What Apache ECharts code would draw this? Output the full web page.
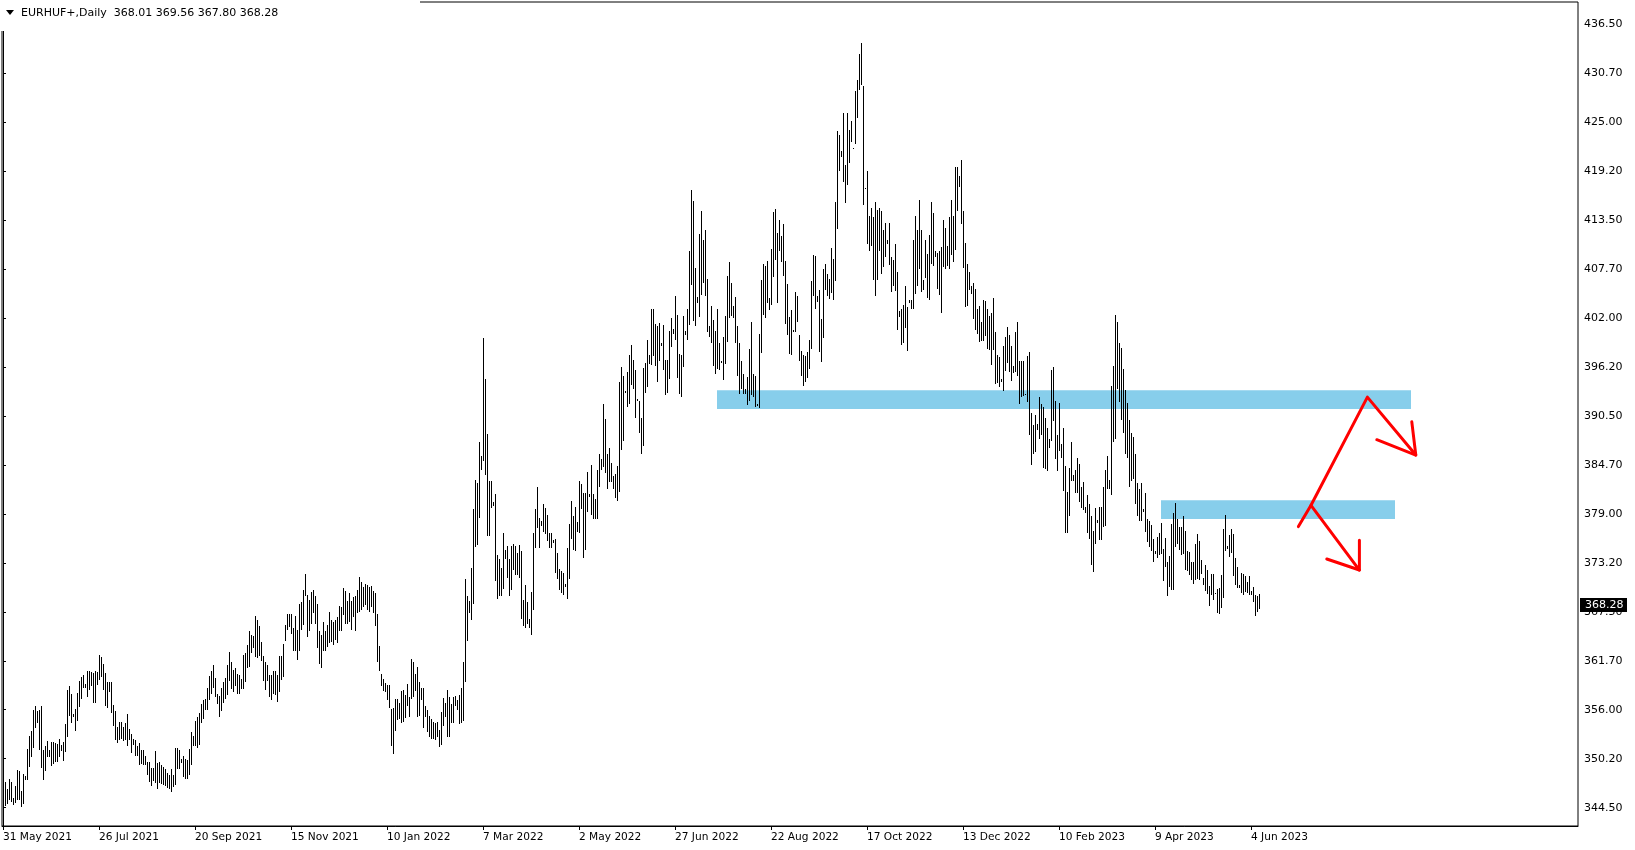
<!DOCTYPE html>
<html><head><meta charset="utf-8">
<script src="https://cdn.jsdelivr.net/npm/echarts@6/dist/echarts.min.js"></script>
<style>html,body{margin:0;padding:0;background:#fff}#c{width:1635px;height:850px}</style>
</head><body><div id="c"></div>
<script>
// ---- tick labels ----
const xTickLabels = ['31 May 2021','26 Jul 2021','20 Sep 2021','15 Nov 2021','10 Jan 2022','7 Mar 2022','2 May 2022','27 Jun 2022','22 Aug 2022','17 Oct 2022','13 Dec 2022','10 Feb 2023','9 Apr 2023','4 Jun 2023'];
const barsPerLabel = 48;
const yTickValues = [344.5,350.25,356.0,361.75,367.5,373.25,379.0,384.75,390.5,396.25,402.0,407.75,413.5,419.25,425.0,430.75,436.5];
const yTickLabels = ['344.50','350.20','356.00','361.70','367.50','373.20','379.00','384.70','390.50','396.20','402.00','407.70','413.50','419.20','425.00','430.70','436.50'];
// ---- EURHUF daily bars (high / low) ----
const highs = [
348.3,347.5,346.7,347.9,347.5,345.6,347.0,348.9,348.8,346.5,
348.5,348.2,351.4,352.9,353.5,356.0,356.4,355.9,356.0,356.4,
351.3,351.8,352.3,351.3,352.2,352.2,352.1,352.0,352.6,351.9,
352.2,354.3,358.3,358.8,357.9,355.5,356.1,358.0,359.4,359.9,
360.1,359.0,360.5,360.5,360.4,360.3,360.5,360.4,362.4,362.2,
361.4,360.3,359.3,359.3,359.3,356.6,355.9,354.0,354.6,354.6,
354.0,354.5,355.5,353.7,353.2,352.6,352.5,351.7,352.1,351.3,
351.3,350.6,349.9,349.9,349.2,349.2,351.1,349.8,349.9,349.5,
349.3,349.0,348.6,348.3,349.1,348.3,351.5,351.5,351.3,350.2,
350.6,350.2,350.1,351.4,353.4,352.9,354.7,355.1,355.6,356.7,
357.1,357.3,358.5,360.0,360.6,361.3,359.7,357.8,357.6,358.5,
359.3,359.7,361.3,362.8,361.6,360.7,360.9,360.2,360.1,359.6,
362.4,362.7,363.6,365.2,364.8,364.7,367.0,366.5,365.8,364.0,
362.3,361.6,361.3,360.1,360.1,360.6,360.5,360.1,362.3,362.3,
363.7,365.9,367.2,367.2,367.2,365.6,367.0,365.4,368.4,368.6,
370.1,371.9,369.5,368.9,369.8,370.1,369.4,368.4,365.3,364.8,
366.3,365.2,365.9,367.5,366.5,366.3,366.5,366.9,368.2,368.1,
370.3,369.9,368.8,369.7,368.8,369.2,369.4,370.1,371.6,371.0,
370.4,370.8,370.6,370.4,370.5,369.9,369.7,367.2,363.5,360.2,
359.6,359.1,358.9,358.9,356.1,356.2,357.3,357.3,356.8,358.2,
358.3,357.7,359.0,357.5,362.0,361.6,360.2,361.0,359.3,358.6,
358.5,356.4,356.0,355.3,354.9,354.6,354.5,354.6,353.6,355.7,
357.4,356.8,358.3,357.5,356.7,357.5,357.6,357.1,357.7,358.5,
361.6,371.4,369.3,368.8,372.6,379.6,383.0,382.6,387.4,385.8,
399.7,394.8,388.4,382.8,382.8,380.4,381.3,374.2,373.7,372.6,
376.7,374.7,375.2,373.7,375.2,375.4,375.2,374.4,375.3,374.6,
368.9,370.6,368.7,366.7,369.8,376.8,379.6,382.1,378.5,378.2,
380.2,379.7,378.9,376.8,376.8,375.9,376.1,374.4,372.5,372.3,
372.0,370.8,375.0,377.8,380.5,378.7,379.8,378.0,382.8,382.5,
381.4,381.5,383.9,381.3,384.7,381.3,380.7,384.2,386.0,385.4,
391.9,390.1,386.0,386.7,385.0,383.4,383.7,384.6,394.5,396.2,
395.2,393.4,395.7,397.7,398.8,397.1,395.9,392.5,392.3,390.3,
396.1,396.7,399.4,397.7,403.0,403.0,401.3,401.0,401.4,399.0,
401.2,397.1,397.1,400.5,402.0,400.7,404.6,402.3,397.8,397.7,
402.2,400.5,403.1,409.8,417.0,415.7,407.9,404.4,411.8,414.6,
411.2,412.3,406.6,401.0,403.4,401.8,400.5,403.0,399.1,397.0,
399.8,402.2,406.9,408.6,406.1,403.4,404.5,401.1,399.1,396.9,
395.4,393.6,395.1,398.3,401.5,395.4,395.2,391.9,400.1,406.5,
408.3,408.1,408.7,404.3,410.1,414.4,414.8,412.0,413.5,411.6,
413.0,408.7,406.0,402.1,402.9,400.6,405.1,404.6,400.0,398.1,
397.7,397.5,398.0,399.4,406.3,409.4,409.3,404.6,405.3,401.9,
407.8,408.3,407.2,406.6,410.2,408.9,415.6,424.0,423.5,421.6,
426.0,419.9,426.1,424.1,425.1,422.0,428.6,429.9,433.0,434.3,
429.2,417.3,419.2,414.0,414.9,413.8,415.6,414.7,414.9,414.5,
412.3,413.2,411.1,413.1,409.1,408.8,410.7,407.4,402.8,403.1,
403.5,405.7,403.3,404.1,404.1,411.2,414.0,412.3,415.8,412.3,
406.4,411.1,409.5,411.7,415.6,414.3,409.8,409.6,409.8,410.3,
413.5,412.5,410.4,413.8,415.9,414.0,419.7,419.7,418.7,420.5,
414.5,410.8,408.3,407.4,405.8,406.1,405.4,403.1,403.4,401.5,
404.1,404.0,403.1,402.2,402.6,404.3,400.3,397.6,397.4,394.8,
398.7,399.8,400.9,400.0,398.7,396.3,400.4,401.5,396.9,396.9,
396.9,393.1,397.5,398.0,390.8,389.4,390.6,389.6,392.7,391.9,
391.5,390.3,389.1,387.8,395.9,396.2,392.2,388.2,392.0,387.2,
389.1,384.6,381.6,384.4,387.4,383.5,384.1,385.6,384.8,382.2,
382.7,379.8,381.2,380.1,378.7,377.0,379.7,378.3,379.8,379.8,
382.1,384.1,385.8,383.0,394.0,396.3,402.3,401.5,399.1,398.5,
396.0,393.5,392.0,390.0,388.5,388.0,386.0,382.6,381.9,382.6,
379.6,381.5,378.4,378.1,377.7,376.1,374.6,376.3,376.8,377.9,
374.9,376.2,373.3,374.1,377.8,379.1,380.3,378.4,377.4,377.5,
378.7,377.0,374.6,374.5,373.4,373.4,375.5,376.6,375.8,373.6,
371.5,373.0,372.4,370.5,371.9,371.9,369.7,370.2,370.3,371.8,
377.2,378.9,375.2,376.5,377.2,376.6,373.8,372.8,370.7,372.0,
371.9,371.7,371.0,371.7,369.9,370.4,369.5,369.3,369.56
];
const lows = [
346.0,344.7,344.9,345.4,345.2,344.8,345.0,345.4,345.4,344.6,
344.9,347.7,347.7,349.3,350.4,351.5,353.9,354.5,351.3,349.2,
347.7,348.8,350.5,350.5,349.4,349.6,349.9,349.9,350.5,351.1,
350.0,351.0,352.8,355.3,354.5,355.2,353.5,354.7,356.3,357.3,
358.6,358.5,357.5,358.3,358.8,356.8,356.8,358.9,359.5,359.9,
358.3,356.4,356.2,358.1,355.6,354.1,352.4,352.1,352.4,352.6,
352.3,352.4,351.7,352.4,350.9,351.9,350.6,350.6,349.5,349.6,
349.5,349.5,348.3,347.5,347.0,347.6,347.4,346.7,347.4,347.3,
347.2,347.0,346.8,346.7,346.3,346.9,347.2,349.1,349.0,349.7,
348.1,347.9,347.9,348.3,349.5,351.7,351.8,351.5,351.9,354.4,
354.9,356.0,356.0,357.2,357.9,358.6,357.5,356.7,355.1,355.9,
356.8,357.3,357.7,359.4,358.4,358.1,358.8,357.9,357.9,358.4,
358.4,359.2,360.9,361.0,362.7,363.3,362.2,362.1,362.3,361.7,
359.4,358.3,359.4,357.5,357.1,357.9,357.7,356.9,358.1,359.5,
359.8,364.1,365.4,365.7,364.9,362.9,362.9,361.8,362.9,365.4,
366.0,369.4,364.5,365.2,366.1,367.3,366.1,363.3,361.4,360.9,
362.9,362.9,363.4,363.8,364.0,363.6,364.2,363.8,365.2,365.3,
367.1,366.1,366.1,366.3,365.4,366.9,365.2,367.3,367.5,367.7,
368.1,368.3,367.7,367.5,368.1,367.3,365.8,361.6,360.6,358.8,
358.2,358.1,357.1,356.2,351.7,350.8,353.5,354.8,354.9,354.5,
354.6,355.0,356.4,355.2,357.3,357.5,358.2,355.2,355.3,357.2,
353.8,355.1,353.4,352.8,352.6,352.6,352.5,352.8,351.6,351.9,
354.1,355.2,352.8,352.8,354.4,354.5,356.4,356.0,354.3,354.4,
354.7,359.3,364.1,367.3,366.5,368.4,375.1,375.3,378.5,384.1,
385.2,383.5,376.4,376.4,379.7,379.9,371.1,369.0,369.3,369.3,
370.2,373.7,371.5,369.3,370.0,372.4,371.8,371.8,371.5,366.6,
365.8,365.6,366.1,365.6,364.8,367.7,375.0,377.3,375.0,377.6,
376.9,376.6,375.8,375.0,375.0,375.6,372.0,371.3,370.0,369.7,
369.5,370.4,369.0,371.4,376.1,374.8,374.6,376.9,376.8,379.6,
373.8,374.7,379.2,381.0,378.9,378.4,378.4,378.4,382.1,384.2,
384.5,383.8,381.9,382.7,382.7,381.9,380.8,380.5,381.6,386.5,
387.5,393.2,391.5,391.9,394.1,393.6,390.3,392.3,388.5,386.0,
387.0,393.2,393.9,396.6,396.5,397.5,396.3,394.5,396.9,398.7,
395.9,393.0,393.2,394.8,398.6,400.1,399.4,395.0,393.1,392.7,
396.2,400.0,399.4,401.2,405.9,401.6,401.0,403.8,402.1,404.7,
406.1,404.6,400.3,399.8,399.0,396.3,395.4,396.0,395.9,396.7,
394.7,396.6,399.2,402.0,402.2,402.0,399.0,395.2,393.1,393.6,
393.1,393.1,391.8,392.2,393.0,392.7,391.5,391.7,391.4,397.9,
402.4,402.0,403.8,402.9,403.5,406.8,408.8,403.8,409.8,408.6,
406.9,401.3,400.0,397.8,397.6,400.4,400.4,401.5,397.0,395.2,
394.0,394.5,395.0,396.0,398.4,404.6,403.1,403.9,398.0,396.8,
399.6,405.3,404.6,404.2,404.9,404.1,406.3,412.4,419.3,420.9,
417.9,415.5,417.6,420.2,422.7,421.8,422.4,425.5,428.7,429.4,
415.3,417.1,410.7,409.9,410.5,406.5,404.6,406.4,409.9,407.1,
408.0,409.1,410.7,408.2,405.0,405.8,405.2,400.6,402.1,398.8,
399.1,400.8,398.1,403.7,403.1,403.1,404.8,405.8,407.8,405.0,
405.3,406.7,404.3,404.1,408.3,408.1,409.1,405.4,404.7,402.6,
408.0,407.8,408.1,407.8,409.4,408.6,410.0,414.5,417.4,413.0,
407.9,403.3,403.4,405.3,404.8,401.9,400.6,400.1,399.2,399.3,
399.3,399.9,398.3,398.2,396.5,398.2,394.2,394.4,393.9,394.5,
393.4,395.8,396.7,395.7,394.6,395.5,395.6,395.2,391.9,392.7,
392.8,393.0,392.1,388.2,384.7,386.0,386.2,388.8,387.8,388.3,
384.4,384.3,384.0,386.7,387.5,389.9,385.4,384.0,386.4,385.6,
381.7,376.8,376.8,378.7,382.8,382.8,381.4,381.4,380.4,379.7,
379.5,379.1,376.8,376.1,373.0,372.2,375.4,377.9,375.9,375.9,
377.4,377.6,381.9,381.9,381.2,387.4,387.8,393.6,392.1,390.0,
388.5,386.0,385.5,382.1,382.8,383.1,380.2,378.7,378.1,378.2,
379.2,376.9,375.7,375.1,374.6,373.3,374.3,373.8,374.2,374.3,
371.1,372.7,369.3,370.4,370.0,370.1,375.1,375.5,374.7,374.2,
374.3,372.4,372.3,371.8,371.2,370.8,371.2,371.4,371.2,371.9,
370.6,369.9,369.6,368.2,369.5,368.9,369.6,367.3,367.2,367.9,
369.1,374.6,374.9,373.9,374.4,371.7,370.6,370.3,370.3,369.7,
369.5,369.8,369.7,369.5,369.5,368.6,367.0,367.5,367.80
];
const lastBar = {open: 368.01, high: 369.56, low: 367.80, close: 368.28};
const symbolTitle = 'EURHUF+,Daily';
// ---- drawn annotations (in bar-index / price units) ----
const zones = [[357, 393.5, 704, 391.3], [579, 380.6, 696, 378.4]];
const strokes = [
  [[647.7, 377.5], [654.0, 380.0], [682.2, 392.7], [706.4, 385.9]],
  [[654.0, 380.0], [678.2, 372.4]],
  [[686.9, 387.7], [706.4, 385.9], [704.4, 389.8]],
  [[661.9, 373.7], [678.2, 372.4], [678.2, 375.9]]
];
const totalSlots = 788;

// categories: daily slots (Sun-Fri sessions) from 31 May 2021
const categories = [];
{ const d = new Date(Date.UTC(2021, 4, 31));
  while (categories.length < totalSlots) {
    if (d.getUTCDay() !== 6) categories.push(d.toISOString().slice(0, 10));
    d.setUTCDate(d.getUTCDate() + 1);
  } }

const barData = highs.map((h, i) => [i, lows[i], h]);
const FONT = 'DejaVu Sans';

const chart = echarts.init(document.getElementById('c'), null, {renderer: 'canvas'});
const strokeSeries = strokes.map((pts) => ({
  type: 'line', xAxisIndex: 1, yAxisIndex: 0, data: pts, symbol: 'none', silent: true, z: 10,
  lineStyle: {color: '#ff0000', width: 3, cap: 'round', join: 'round'}
}));

chart.setOption({
  animation: false,
  backgroundColor: '#fff',
  grid: {left: 2, top: 2, width: 1576, height: 824, show: true, borderColor: '#000', borderWidth: 1, backgroundColor: 'transparent'},
  xAxis: [{
    type: 'category', data: categories, boundaryGap: true,
    axisLine: {show: true, lineStyle: {color: '#000', width: 1}},
    axisTick: {show: true, alignWithLabel: true, length: 4, lineStyle: {color: '#000'},
      interval: (idx) => idx % barsPerLabel === 0 && idx / barsPerLabel < xTickLabels.length},
    axisLabel: {show: true, color: '#000', fontFamily: FONT, fontSize: 10.6, align: 'left', margin: 6,
      interval: (idx) => idx % barsPerLabel === 0 && idx / barsPerLabel < xTickLabels.length,
      formatter: (v, idx) => xTickLabels[idx / barsPerLabel] || ''},
    splitLine: {show: false}
  }, {
    type: 'value', min: -0.5, max: totalSlots - 0.5, show: false
  }],
  yAxis: [{
    type: 'value', position: 'right', min: 342.35, max: 439.09, scale: true,
    axisLine: {show: true, lineStyle: {color: '#000', width: 1}},
    axisTick: {show: true, length: 3, inside: false, lineStyle: {color: '#000'}, customValues: yTickValues},
    axisLabel: {show: true, color: '#000', fontFamily: FONT, fontSize: 11, margin: 6, customValues: yTickValues,
      formatter: (v) => { const k = yTickValues.findIndex(t => Math.abs(t - v) < 1e-6); return k >= 0 ? yTickLabels[k] : ''; }},
    splitLine: {show: false}
  }],
  graphic: [
    {type: 'rect', left: 0, top: 0, shape: {x: 0, y: 0, width: 420, height: 31}, style: {fill: '#fff'}, z: 100, silent: true},
    {type: 'polygon', shape: {points: [[6, 10], [14, 10], [10, 15]]}, style: {fill: '#000'}, z: 101, silent: true},
    {type: 'text', x: 21, y: 13, z: 101, silent: true,
      style: {text: symbolTitle + '  ' + [lastBar.open, lastBar.high, lastBar.low, lastBar.close].map(v => v.toFixed(2)).join(' '),
        fill: '#000', font: '11px "DejaVu Sans"', textVerticalAlign: 'middle', verticalAlign: 'middle'}}
  ],
  series: [{
    type: 'custom', xAxisIndex: 1, yAxisIndex: 0, data: zones, silent: true, z: 1,
    encode: {x: [0, 2], y: [1, 3]},
    renderItem: (params, api) => {
      const p0 = api.coord([api.value(0), api.value(1)]);
      const p1 = api.coord([api.value(2), api.value(3)]);
      return {type: 'rect', shape: {x: p0[0], y: p0[1], width: p1[0] - p0[0], height: p1[1] - p0[1]}, style: {fill: '#87ceeb'}};
    }
  }, {
    type: 'custom', name: 'EURHUF', xAxisIndex: 0, yAxisIndex: 0, data: barData, silent: true, z: 5,
    encode: {x: 0, y: [1, 2]},
    renderItem: (params, api) => {
      const i = api.value(0);
      const pl = api.coord([i, api.value(1)]);
      const ph = api.coord([i, api.value(2)]);
      const x = Math.round(ph[0]);
      const yt = Math.round(ph[1]);
      const yb = Math.round(pl[1]);
      return {type: 'rect', shape: {x: x, y: yt, width: 1, height: Math.max(1, yb - yt)}, style: {fill: '#000'}};
    }
  }, {
    // current-price tag on the right price scale
    type: 'custom', xAxisIndex: 1, yAxisIndex: 0, data: [[totalSlots - 0.5, lastBar.close]], silent: true, z: 30, clip: false,
    encode: {x: 0, y: 1},
    renderItem: (params, api) => {
      const p = api.coord([api.value(0), api.value(1)]);
      const yc = Math.round(p[1]);
      return {type: 'group', children: [
        {type: 'rect', shape: {x: Math.round(p[0]) + 2, y: yc - 7, width: 47, height: 14}, style: {fill: '#000'}},
        {type: 'text', x: Math.round(p[0]) + 7, y: yc, style: {text: api.value(1).toFixed(2), fill: '#fff', font: '11px "DejaVu Sans"', verticalAlign: 'middle', align: 'left'}}
      ]};
    }
  }].concat(strokeSeries)
});
</script>
</body></html>
